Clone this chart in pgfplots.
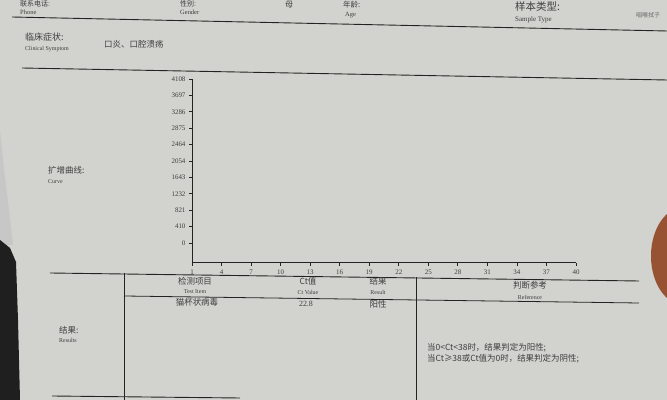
\documentclass[border=0pt]{standalone}
\usepackage{fontspec}
\setmainfont{Liberation Serif}
\newfontfamily\cjk{Noto Sans CJK SC}
\usepackage{pgfplots}
\pgfplotsset{compat=1.18}
\definecolor{paper}{RGB}{210,211,206}
\definecolor{ink}{RGB}{62,62,62}
\definecolor{soft}{RGB}{105,105,105}
\definecolor{rule}{RGB}{35,35,35}
\definecolor{finger}{RGB}{150,82,50}
\newcommand\fs[1]{\fontsize{#1}{#1}\selectfont}
\begin{document}
\begin{tikzpicture}
\useasboundingbox (0,0) rectangle (667bp,400bp);
\begin{scope}[x=1bp,y=-1bp,yshift=400bp,
  t/.style={anchor=west,inner sep=0pt,text=ink},
  c/.style={anchor=center,inner sep=0pt,text=ink}]
\fill[paper] (0,0) rectangle (667,400);
\clip (0,0) rectangle (667,400);
% photo edges
\fill[black!22] (0,130) -- (4,170) -- (9,210) -- (13,245) -- (0,245) -- cycle;
\fill[black!88] (0,240) -- (10,248) -- (16,262) -- (18,320) -- (20,400) -- (0,400) -- cycle;
\fill[finger] (684,256) ellipse [x radius=33, y radius=49];
% rules
\draw[rule, line width=0.9bp] (12,17) -- (667,31);
\draw[rule, line width=0.9bp] (22,68) -- (667,80);
\draw[rule, line width=0.9bp] (50,273) -- (639,281);
\draw[rule, line width=0.8bp] (124,296) -- (639,303);
\draw[rule, line width=0.9bp] (124,273) -- (124,400);
\draw[rule, line width=0.9bp] (416,277) -- (416,400);
\draw[rule, line width=0.9bp] (52,396) -- (240,398);
% header texts
\node[t] at (20,4) {\cjk\fs{7}联系电话:};
\node[t] at (20,12) {\fs{6.5}Phone};
\node[t] at (180,4) {\cjk\fs{7}性别:};
\node[t] at (180,12.5) {\fs{6.5}Gender};
\node[t] at (285,5) {\cjk\fs{8}母};
\node[t] at (343,4.5) {\cjk\fs{7.5}年龄:};
\node[t] at (345,15) {\fs{6.5}Age};
\node[t] at (515,7) {\cjk\fs{10.5}样本类型:};
\node[t] at (515,19.5) {\fs{7}Sample Type};
\node[t,text=soft] at (636,15) {\cjk\fs{6}咽喉拭子};
\node[t] at (25,37) {\cjk\fs{9}临床症状:};
\node[t] at (25,49) {\fs{6}Clinical Symptom};
\node[t] at (104,44) {\cjk\fs{8.5}口炎、口腔溃疡};
\node[t] at (48,170) {\cjk\fs{8.5}扩增曲线:};
\node[t] at (48,182) {\fs{6}Curve};
% table
\node[c] at (195,281) {\cjk\fs{8.5}检测项目};
\node[c] at (195,292) {\fs{6}Test Item};
\node[c] at (308,281) {\cjk\fs{8.5}Ct值};
\node[c] at (308,292) {\fs{6}Ct Value};
\node[c] at (378,281) {\cjk\fs{8.5}结果};
\node[c] at (378,292) {\fs{6}Result};
\node[c] at (530,285) {\cjk\fs{8.5}判断参考};
\node[c] at (530,297) {\fs{6}Reference};
\node[c] at (197,302) {\cjk\fs{8.5}猫杯状病毒};
\node[c] at (306,304) {\fs{8}22.8};
\node[c] at (378,304) {\cjk\fs{8.5}阳性};
\node[t] at (59,330) {\cjk\fs{8.5}结果:};
\node[t] at (59,340) {\fs{6}Results};
\node[t] at (427,348) {\cjk\fs{8.5}当0<Ct<38时，结果判定为阳性;};
\node[t] at (427,359) {\cjk\fs{8.5}当Ct≥38或Ct值为0时，结果判定为阴性;};
\end{scope}
\begin{axis}[at={(192bp,137bp)}, anchor=south west, scale only axis,
  width=384bp, height=184bp,
  xmin=1, xmax=40, ymin=-501, ymax=4108,
  axis x line=bottom, axis y line=left,
  axis line style={-, rule, line width=1bp},
  xtick={1,4,...,40},
  ytick={0,410.8,821.6,1232.4,1643.2,2054,2464.8,2875.6,3286.4,3697.2,4108},
  yticklabels={0,410,821,1232,1643,2054,2464,2875,3286,3697,4108},
  tick style={rule, line width=0.7bp},
  major tick length=3bp, tick align=outside,
  ticklabel style={font=\fs{7}, text=ink},
  /pgf/number format/assume math mode=true,
  clip=false]
\addplot[draw=none] coordinates {(1,0) (40,0)};
\end{axis}
\end{tikzpicture}
\end{document}
